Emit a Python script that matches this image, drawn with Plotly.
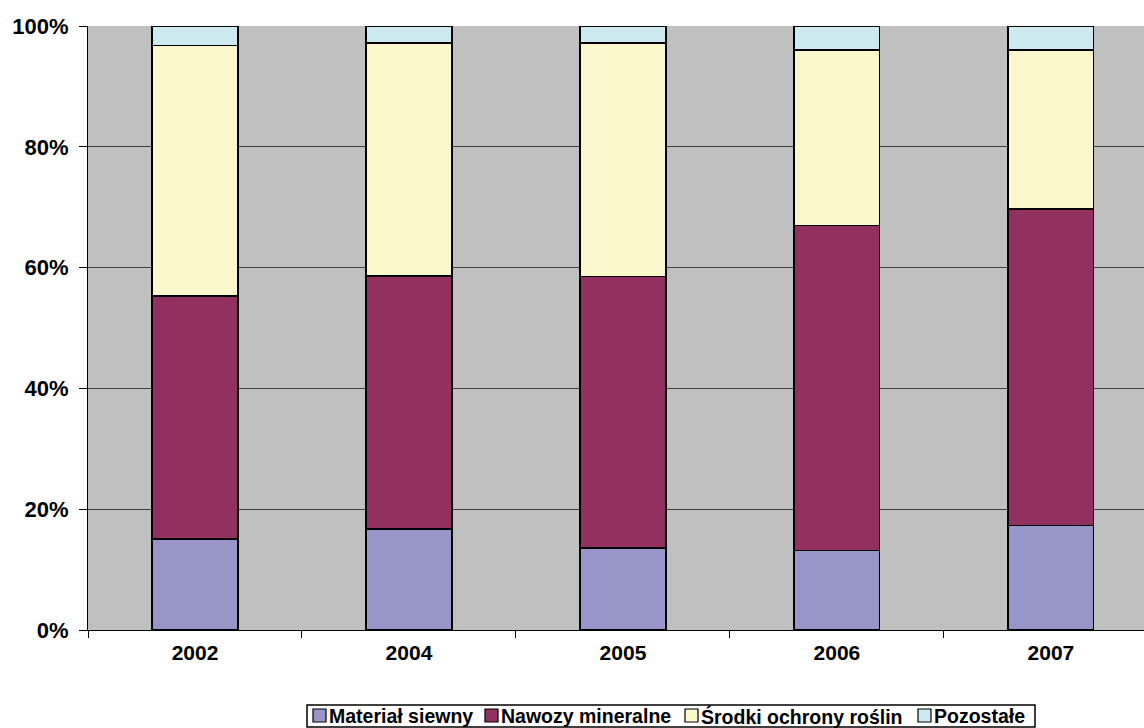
import plotly.graph_objects as go

# Udział kosztów środków produkcji (%)
years = ["2002", "2004", "2005", "2006", "2007"]
material_siewny = [15.1, 16.7, 13.6, 13.2, 17.3]
nawozy_mineralne = [40.2, 41.9, 44.9, 53.8, 52.4]
srodki_ochrony = [41.5, 38.6, 38.7, 29.0, 26.3]
pozostale = [3.2, 2.8, 2.8, 4.0, 4.0]

series_names = ["Materiał siewny", "Nawozy mineralne", "Środki ochrony roślin", "Pozostałe"]
series_values = [material_siewny, nawozy_mineralne, srodki_ochrony, pozostale]
series_colors = ["#9896C9", "#92315F", "#FBF8CD", "#CDEAF0"]

font_family = "Arial, Liberation Sans, sans-serif"

W, H = 1144, 728
M_L, M_R, M_T, M_B = 88, 0, 26, 98
plot_w = W - M_L - M_R
plot_h = H - M_T - M_B


def px_x(px):
    """Pixel x -> paper coordinate."""
    return (px - M_L) / plot_w


def px_y(py):
    """Pixel y (from top) -> paper coordinate."""
    return (H - M_B - py) / plot_h


fig = go.Figure()
for name, vals, color in zip(series_names, series_values, series_colors):
    fig.add_trace(go.Bar(
        x=years,
        y=vals,
        name=name,
        width=0.4,
        marker=dict(color=color, line=dict(color="black", width=1.5)),
    ))

# Bottom legend: framed box with small swatches and bold labels
legend_font = dict(family=font_family, size=19.5, color="black", weight="bold")
box_left, box_right, box_top, box_bottom = 307, 1035, 705, 727
swatch_x = [313, 485, 685, 918]
sw = 13
sw_top = 709
shapes = [dict(
    type="rect", xref="paper", yref="paper",
    x0=px_x(box_left), x1=px_x(box_right),
    y0=px_y(box_bottom), y1=px_y(box_top),
    line=dict(color="black", width=1.5), fillcolor="white", layer="above",
)]
annotations = []
for name, color, sx in zip(series_names, series_colors, swatch_x):
    shapes.append(dict(
        type="rect", xref="paper", yref="paper",
        x0=px_x(sx), x1=px_x(sx + sw),
        y0=px_y(sw_top + sw), y1=px_y(sw_top),
        line=dict(color="black", width=1.2), fillcolor=color, layer="above",
    ))
    annotations.append(dict(
        xref="paper", yref="paper",
        x=px_x(sx + sw + 1), y=px_y(716),
        xanchor="left", yanchor="middle",
        text=name, showarrow=False, font=legend_font,
    ))

fig.update_layout(
    barmode="stack",
    width=W,
    height=H,
    margin=dict(l=M_L, r=M_R, t=M_T, b=M_B),
    paper_bgcolor="white",
    plot_bgcolor="#C0C0C0",
    font=dict(family=font_family, size=21, color="black"),
    showlegend=False,
    shapes=shapes,
    annotations=annotations,
)

fig.update_xaxes(
    type="category",
    range=[-0.5, 4.435],
    tickson="boundaries",
    ticks="outside",
    ticklen=7,
    tickcolor="black",
    showline=True,
    linecolor="black",
    linewidth=1,
    showgrid=False,
    tickfont=dict(family=font_family, size=21, color="black", weight="bold"),
    ticklabelstandoff=4,
)

fig.update_yaxes(
    range=[0, 100],
    tickvals=[0, 20, 40, 60, 80, 100],
    ticktext=["0%", "20%", "40%", "60%", "80%", "100%"],
    ticks="outside",
    ticklen=8,
    tickcolor="black",
    showline=True,
    linecolor="black",
    linewidth=1,
    showgrid=True,
    gridcolor="#404040",
    gridwidth=1,
    zeroline=False,
    tickfont=dict(family=font_family, size=22, color="black", weight="bold"),
    ticklabelstandoff=6,
)

fig.write_html("out.html")
